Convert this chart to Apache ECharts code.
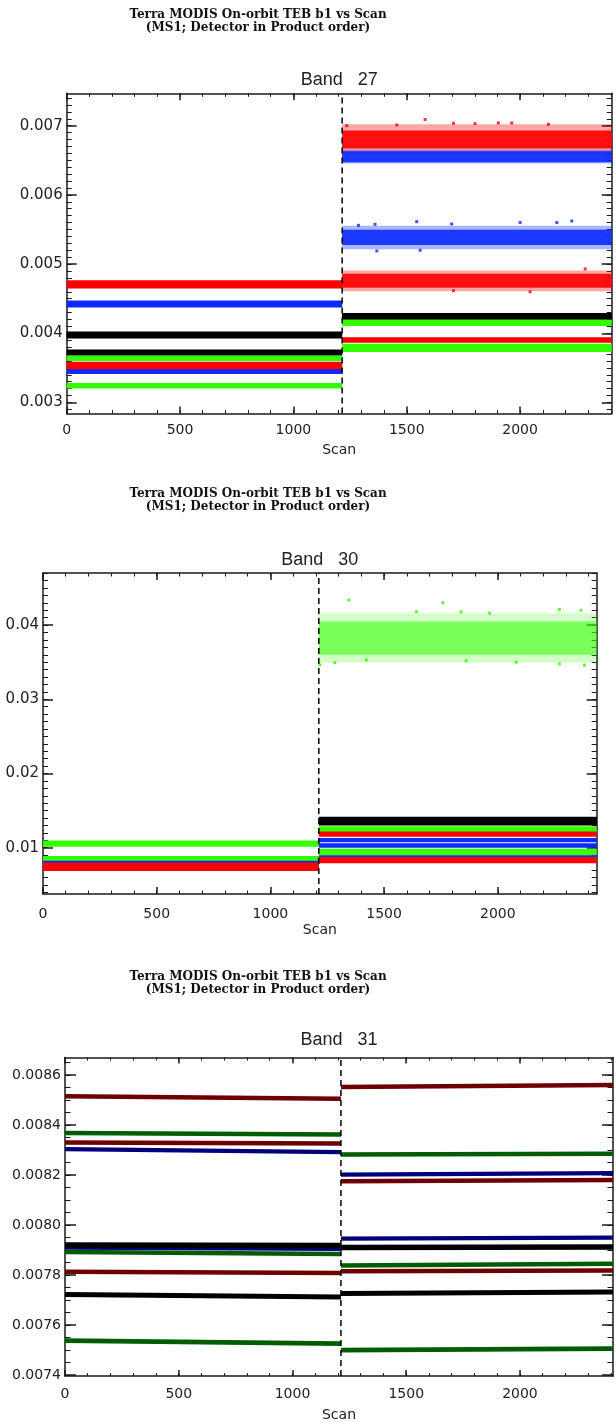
<!DOCTYPE html>
<html>
<head>
<meta charset="utf-8">
<title>Terra MODIS On-orbit TEB b1 vs Scan</title>
<script src="https://cdn.jsdelivr.net/npm/echarts@6/dist/echarts.min.js"></script>
<style>
html,body{margin:0;padding:0;background:#ffffff;}
#chart{width:616px;height:1422px;}
</style>
</head>
<body>
<div id="chart"></div>
<script>
// ---------------- text ----------------
const mainTitle = 'Terra MODIS On-orbit TEB b1 vs Scan';
const subTitle = '(MS1; Detector in Product order)';
const bandNames = ['Band   27', 'Band   30', 'Band   31'];
const xAxisName = 'Scan';

// ---------------- axes ----------------
const scanTicks = [0, 500, 1000, 1500, 2000];
const scanMax = [2404, 2435, 2409];
const switchScan = [1215, 1213, 1213];
const b27Ticks = [0.003, 0.004, 0.005, 0.006, 0.007];
const b30Ticks = [0.01, 0.02, 0.03, 0.04];
const b31Ticks = [0.0074, 0.0076, 0.0078, 0.0080, 0.0082, 0.0084, 0.0086];
const b27Range = [0.002841, 0.007468];
const b30Range = [0.00376, 0.04702];
const b31Range = [0.007396, 0.00867];

// ---------------- Band 27 detectors (plot order) ----------------
const b27Color       = ['k', 'k', 'g', 'r', 'b', 'g', 'r', 'b', 'r', 'k'];
const b27Before      = [0.003975, 0.003720, 0.003639, 0.003532, 0.003451, 0.003243, 0.004708, 0.004423, 0.003532, 0.003975];
const b27BeforeHalf  = [0.000050, 0.000045, 0.000040, 0.000055, 0.000040, 0.000040, 0.000060, 0.000050, 0.000050, 0.000040];
const b27After       = [0.004240, 0.004250, 0.004154, 0.003903, 0.005385, 0.003788, 0.006800, 0.006552, 0.004759, 0.004240];
const b27AfterHalf   = [0.000040, 0.000044, 0.000048, 0.000040, 0.000110, 0.000060, 0.000130, 0.000080, 0.000100, 0.000040];
const b27AfterSpread = [0, 0, 0, 0, 0.000170, 0, 0.000220, 0.000100, 0.000150, 0];
const b27RedOutliers  = [[1235, 0.00700], [1456, 0.00701], [1581, 0.00709], [1706, 0.007035], [1801, 0.00703], [1904, 0.00704], [1963, 0.00704], [2125, 0.00702], [2287, 0.00493], [2044, 0.00460], [1706, 0.004616]];
const b27BlueOutliers = [[1287, 0.00556], [1360, 0.005575], [1544, 0.005613], [1698, 0.00558], [2000, 0.00560], [2162, 0.00560], [2228, 0.005623], [1559, 0.00520], [1368, 0.00519]];

// ---------------- Band 30 detectors (plot order) ----------------
const b30Color       = ['k', 'k', 'g', 'g', 'b', 'b', 'b', 'g', 'r', 'r'];
const b30Before      = [0.00740, 0.00760, 0.01056, 0.00853, 0.00812, 0.00805, 0.00805, 0.00720, 0.00750, 0.00730];
const b30BeforeHalf  = [0.00030, 0.00030, 0.00042, 0.00034, 0.00013, 0.00015, 0.00015, 0.00030, 0.00050, 0.00045];
const b30After       = [0.01358, 0.01355, 0.01250, 0.00941, 0.01102, 0.01030, 0.00883, 0.03825, 0.01183, 0.00834];
const b30AfterHalf   = [0.00058, 0.00050, 0.00040, 0.00045, 0.00030, 0.00030, 0.00016, 0.00225, 0.00036, 0.00042];
const b30AfterSpread = [0, 0, 0, 0, 0, 0, 0, 0.00330, 0, 0];
const b30GreenOutliers = [[1345, 0.04337], [1758, 0.04302], [1642, 0.04180], [1964, 0.04160], [1839, 0.04180], [2271, 0.04210], [2366, 0.04200], [1217, 0.03464], [1283, 0.03495], [1422, 0.03530], [1861, 0.03521], [2081, 0.03500], [2271, 0.03477], [2381, 0.03460]];

// ---------------- Band 31 detectors (plot order) ----------------
const b31Color       = ['dr', 'dg', 'dr', 'db', 'db', 'k', 'dg', 'dr', 'k', 'dg'];
const b31BeforeStart = [0.008515, 0.008368, 0.008330, 0.008304, 0.007910, 0.007920, 0.007892, 0.007813, 0.007722, 0.007538];
const b31BeforeEnd   = [0.008505, 0.008362, 0.008326, 0.008292, 0.007905, 0.007918, 0.007884, 0.007808, 0.007712, 0.007526];
const b31AfterStart  = [0.008552, 0.008282, 0.008175, 0.008202, 0.007946, 0.007910, 0.007838, 0.007815, 0.007726, 0.007500];
const b31AfterEnd    = [0.008560, 0.008285, 0.008180, 0.008208, 0.007950, 0.007912, 0.007845, 0.007818, 0.007732, 0.007506];
const b31Half        = [0.0000090, 0.0000090, 0.0000090, 0.0000085, 0.0000085, 0.0000110, 0.0000090, 0.0000090, 0.0000100, 0.0000095];

// ---------------- styling ----------------
const PALETTE = {k: '#000000', r: '#ff0000', g: '#33ff00', b: '#0a2aff', dr: '#6e0000', dg: '#005c00', db: '#00007a'};
const AX = '#1a1a1a';
const LABEL = '#222222';

function steps(a, b, s) {
  const out = [];
  const n = Math.round((b - a) / s);
  for (let k = 0; k <= n; k++) out.push(+(a + k * s).toFixed(7));
  return out;
}

const panels = [
  {
    band: bandNames[0], grid: {left: 66.7, top: 93.3, width: 545, height: 320.2},
    xMax: scanMax[0], sw: switchScan[0], yRange: b27Range, yTicks: b27Ticks, yMinorStep: 0.0001, dec: 3,
    det: {color: b27Color, b0: b27Before, b1: b27Before, bh: b27BeforeHalf, a0: b27After, a1: b27After, ah: b27AfterHalf, af: b27AfterSpread},
    coreAlpha: 0.9, spreadAlpha: 0.35,
    outliers: [{data: b27RedOutliers, c: 'r'}, {data: b27BlueOutliers, c: 'b'}],
    mainTop: 8.5, bandTop: 70, xLabelMargin: 10, nameGap: 29.5, xLabelSize: 14, yLabelSize: 15,
    yTickLen: 10, xTickLen: 7
  },
  {
    band: bandNames[1], grid: {left: 43, top: 573, width: 553.7, height: 321},
    xMax: scanMax[1], sw: switchScan[1], yRange: b30Range, yTicks: b30Ticks, yMinorStep: 0.001, dec: 2,
    det: {color: b30Color, b0: b30Before, b1: b30Before, bh: b30BeforeHalf, a0: b30After, a1: b30After, ah: b30AfterHalf, af: b30AfterSpread},
    coreAlpha: 0.55, spreadAlpha: 0.22,
    outliers: [{data: b30GreenOutliers, c: 'g'}],
    mainTop: 487.5, bandTop: 549.5, xLabelMargin: 13, nameGap: 29.5, xLabelSize: 14, yLabelSize: 15,
    yTickLen: 10, xTickLen: 7
  },
  {
    band: bandNames[2], grid: {left: 65, top: 1057.5, width: 548, height: 318.5},
    xMax: scanMax[2], sw: switchScan[2], yRange: b31Range, yTicks: b31Ticks, yMinorStep: 0.00005, dec: 4,
    det: {color: b31Color, b0: b31BeforeStart, b1: b31BeforeEnd, bh: b31Half, a0: b31AfterStart, a1: b31AfterEnd, ah: b31Half, af: b31Half.map(() => 0)},
    coreAlpha: 1, spreadAlpha: 0.3,
    outliers: [],
    mainTop: 970.5, bandTop: 1030, xLabelMargin: 11, nameGap: 32, xLabelSize: 14, yLabelSize: 14,
    yTickLen: 11, xTickLen: 6
  }
];

function renderBand(params, api) {
  const x0 = api.value(0), x1 = api.value(1);
  const pts = [
    api.coord([x0, api.value(3)]),
    api.coord([x1, api.value(5)]),
    api.coord([x1, api.value(4)]),
    api.coord([x0, api.value(2)])
  ];
  return {type: 'polygon', shape: {points: pts}, style: {fill: api.visual('color'), opacity: api.value(6)}};
}

const option = {
  animation: false,
  backgroundColor: '#ffffff',
  textStyle: {fontFamily: 'DejaVu Sans'},
  title: [], grid: [], xAxis: [], yAxis: [], series: []
};

panels.forEach((p, i) => {
  option.grid.push(Object.assign({containLabel: false, outerBoundsMode: 'none', show: false}, p.grid));
  const xBase = option.xAxis.length;
  const yBase = option.yAxis.length;
  const xMinor = steps(0, Math.floor(p.xMax / 100) * 100, 100);
  const yMinor = steps(Math.ceil(p.yRange[0] / p.yMinorStep - 1e-6) * p.yMinorStep,
                       Math.floor(p.yRange[1] / p.yMinorStep + 1e-6) * p.yMinorStep, p.yMinorStep);
  const major = {color: AX, width: 1.5};
  const minor = {color: AX, width: 1};
  const base = {gridIndex: i, type: 'value', splitLine: {show: false}, minorTick: {show: false}, splitArea: {show: false}};
  const xb = Object.assign({}, base, {min: 0, max: p.xMax});
  const yb = Object.assign({}, base, {min: p.yRange[0], max: p.yRange[1]});

  // x axes: bottom major, bottom minor, top major, top minor
  option.xAxis.push(Object.assign({}, xb, {
    position: 'bottom',
    axisLine: {show: true, onZero: false, lineStyle: major},
    axisTick: {show: true, inside: true, length: p.xTickLen, customValues: scanTicks, lineStyle: major},
    axisLabel: {show: true, customValues: scanTicks, margin: p.xLabelMargin, fontSize: p.xLabelSize, color: LABEL,
                fontFamily: 'DejaVu Sans', formatter: (v) => String(Math.round(v))},
    name: xAxisName, nameLocation: 'middle', nameGap: p.nameGap,
    nameTextStyle: {fontSize: 14, color: LABEL, fontFamily: 'DejaVu Sans'}
  }));
  option.xAxis.push(Object.assign({}, xb, {
    position: 'bottom', axisLine: {show: false, onZero: false},
    axisTick: {show: true, inside: true, length: p.xTickLen / 2, customValues: xMinor, lineStyle: minor},
    axisLabel: {show: false}
  }));
  option.xAxis.push(Object.assign({}, xb, {
    position: 'top', axisLine: {show: true, onZero: false, lineStyle: major},
    axisTick: {show: true, inside: true, length: p.xTickLen, customValues: scanTicks, lineStyle: major},
    axisLabel: {show: false}
  }));
  option.xAxis.push(Object.assign({}, xb, {
    position: 'top', axisLine: {show: false, onZero: false},
    axisTick: {show: true, inside: true, length: p.xTickLen / 2, customValues: xMinor, lineStyle: minor},
    axisLabel: {show: false}
  }));

  // y axes: left major, left minor, right major, right minor
  option.yAxis.push(Object.assign({}, yb, {
    position: 'left',
    axisLine: {show: true, onZero: false, lineStyle: major},
    axisTick: {show: true, inside: true, length: p.yTickLen, customValues: p.yTicks, lineStyle: major},
    axisLabel: {show: true, customValues: p.yTicks, margin: 4, fontSize: p.yLabelSize, color: LABEL,
                fontFamily: 'DejaVu Sans', formatter: (v) => Number(v).toFixed(p.dec)}
  }));
  option.yAxis.push(Object.assign({}, yb, {
    position: 'left', axisLine: {show: false, onZero: false},
    axisTick: {show: true, inside: true, length: p.yTickLen / 2, customValues: yMinor, lineStyle: minor},
    axisLabel: {show: false}
  }));
  option.yAxis.push(Object.assign({}, yb, {
    position: 'right', axisLine: {show: true, onZero: false, lineStyle: major},
    axisTick: {show: true, inside: true, length: p.yTickLen, customValues: p.yTicks, lineStyle: major},
    axisLabel: {show: false}
  }));
  option.yAxis.push(Object.assign({}, yb, {
    position: 'right', axisLine: {show: false, onZero: false},
    axisTick: {show: true, inside: true, length: p.yTickLen / 2, customValues: yMinor, lineStyle: minor},
    axisLabel: {show: false}
  }));

  // detector bands
  const d = p.det;
  for (let k = 0; k < d.color.length; k++) {
    const items = [];
    items.push([0, p.sw, d.b0[k] - d.bh[k], d.b0[k] + d.bh[k], d.b1[k] - d.bh[k], d.b1[k] + d.bh[k], 1]);
    const spread = d.af[k];
    if (spread > 0) {
      items.push([p.sw, p.xMax, d.a0[k] - spread, d.a0[k] + spread, d.a1[k] - spread, d.a1[k] + spread, p.spreadAlpha]);
    }
    items.push([p.sw, p.xMax, d.a0[k] - d.ah[k], d.a0[k] + d.ah[k], d.a1[k] - d.ah[k], d.a1[k] + d.ah[k],
                spread > 0 ? p.coreAlpha : 1]);
    option.series.push({
      type: 'custom', xAxisIndex: xBase, yAxisIndex: yBase, renderItem: renderBand,
      data: items, encode: {x: [0, 1], y: [2, 3, 4, 5]}, itemStyle: {color: PALETTE[d.color[k]]},
      silent: true, clip: true, z: 2
    });
  }

  // scattered outlying samples
  p.outliers.forEach((o) => {
    option.series.push({
      type: 'scatter', xAxisIndex: xBase, yAxisIndex: yBase, data: o.data,
      symbol: 'rect', symbolSize: 3, itemStyle: {color: PALETTE[o.c]}, silent: true, z: 2
    });
  });

  // dashed separator at the switch scan
  option.series.push({
    type: 'line', xAxisIndex: xBase, yAxisIndex: yBase,
    data: [[p.sw, p.yRange[0]], [p.sw, p.yRange[1]]],
    symbol: 'none', silent: true, z: 3,
    lineStyle: {color: '#000000', width: 1.5, type: [6, 4]}
  });

  // titles
  option.title.push({
    text: mainTitle + '\n' + subTitle, left: 258, top: p.mainTop, textAlign: 'center', padding: 0,
    textStyle: {fontFamily: 'DejaVu Serif', fontWeight: 'bold', fontSize: 12, lineHeight: 13, color: '#111111'}
  });
  option.title.push({
    text: p.band, left: p.grid.left + p.grid.width / 2, top: p.bandTop, textAlign: 'center', padding: 0,
    textStyle: {fontFamily: 'Liberation Sans', fontWeight: 'normal', fontSize: 18, lineHeight: 21, color: LABEL}
  });
});

const chart = echarts.init(document.getElementById('chart'), null, {renderer: 'canvas'});
chart.setOption(option);
</script>
</body>
</html>
